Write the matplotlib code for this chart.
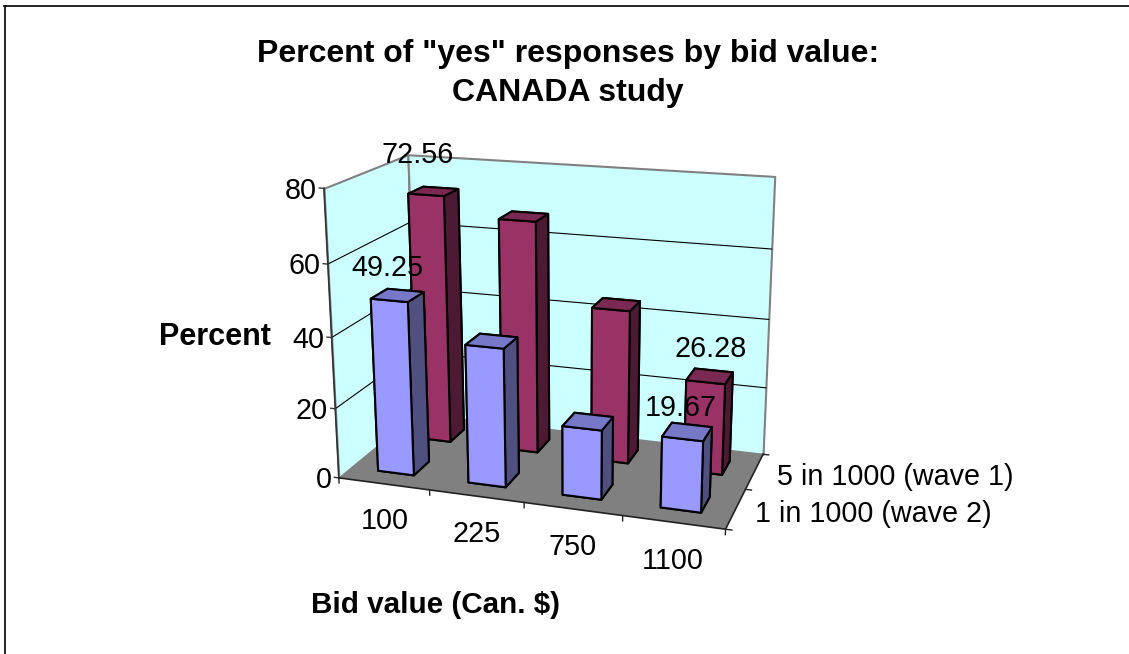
import numpy as np
import matplotlib
matplotlib.use("Agg")
import matplotlib.pyplot as plt
from matplotlib.lines import Line2D
from mpl_toolkits.mplot3d.art3d import Poly3DCollection

plt.rcParams["font.family"] = ["Liberation Sans", "DejaVu Sans"]

WIDTH, HEIGHT = 1129, 654

# Chart values
bids = ["100", "225", "750", "1100"]
waves = ["1 in 1000 (wave 2)", "5 in 1000 (wave 1)"]
wave2_yes = [49.25, 39.0, 19.4, 19.67]
wave1_yes = [72.56, 67.2, 44.3, 26.28]
percent_ticks = [0, 20, 40, 60, 80]
wave2_labels = ["49.25", None, None, "19.67"]
wave1_labels = ["72.56", None, None, "26.28"]

# Excel's camera: where seven corners of the plot box land in the image
box_corners = np.array(
    [[0, 0, 0], [0, 0, 80], [0, 2, 0], [0, 2, 80], [4, 2, 80], [4, 2, 0], [4, 0, 0]],
    dtype=float,
)
box_pixels = np.array(
    [
        [338.3, 477.7],
        [325.0, 187.7],
        [417.3, 414.3],
        [406.7, 155.0],
        [775.0, 176.7],
        [763.3, 453.3],
        [725.0, 530.0],
    ]
)


# Fit a 3x4 camera matrix to the corners
def fit_camera(world, image):
    scale = np.diag([1 / 4, 1 / 2, 1 / 80, 1])
    rows = []
    for (x, y, z), (u, v) in zip(world, image):
        p = scale @ np.array([x, y, z, 1])
        rows.append(np.r_[p, 0, 0, 0, 0, -u * p])
        rows.append(np.r_[0, 0, 0, 0, p, -v * p])
    cam = np.linalg.svd(np.array(rows))[2][-1].reshape(3, 4) @ scale
    return cam / (cam[2] @ [2, 1, 40, 1])


camera = fit_camera(box_corners, box_pixels)

fig = plt.figure(figsize=(WIDTH / 100, HEIGHT / 100), dpi=100)
ax = fig.add_axes([0, 0, 1, 1], projection="3d")
ax.set_axis_off()
ax.computed_zorder = False
ax.patch.set_alpha(0)
ax.set_proj_type("ortho")  # switches off mplot3d's clipping of lines


# mplot3d gets the fitted camera in place of its own view
def fitted_proj():
    to_data = ax.transData.inverted().get_affine().get_matrix()
    flip = np.array([[1, 0, 0], [0, -1, HEIGHT], [0, 0, 1]], dtype=float)
    h = to_data @ flip @ camera
    depth = [-1 / 4, 1 / 2, -1 / 80, 3]
    return np.vstack([h[0], h[1], depth, h[2]])


ax.get_proj = fitted_proj
ax.apply_aspect = lambda position=None: None

x_end, y_end, z_end = len(bids), len(waves), percent_ticks[-1]


# Text at a point of the plot box, moved by some pixels
def label(x, y, z, text, ha="center", px=0, py=3, size=20.7):
    u, v, w = camera @ [x, y, z, 1]
    fig.text((u / w + px) / WIDTH, 1 - (v / w + py) / HEIGHT, text, ha=ha, va="center", fontsize=size)


# Walls and floor
def face(corners, color, zorder, edge="none", lw=0):
    ax.add_collection3d(
        Poly3DCollection(
            [corners], facecolors=color, edgecolors=edge, linewidths=lw, zorder=zorder
        )
    )


face([(0, 0, 0), (0, y_end, 0), (0, y_end, z_end), (0, 0, z_end)], "#CCFFFF", 1, "#808080", 1.5)
face([(0, y_end, 0), (x_end, y_end, 0), (x_end, y_end, z_end), (0, y_end, z_end)], "#CCFFFF", 1, "#808080", 1.5)
face([(0, 0, 0), (x_end, 0, 0), (x_end, y_end, 0), (0, y_end, 0)], "#808080", 3)

# Gridlines and ticks
for p in percent_ticks[1:-1]:
    ax.plot([0, 0, x_end], [0, y_end, y_end], [p, p, p], color="black", lw=0.8, zorder=2)
for p in percent_ticks:
    ax.plot([-0.05, 0], [0, 0], [p, p], color="#333333", lw=1, zorder=4)
    label(-0.08, 0, p, str(p), ha="right")
ax.plot([0, 0], [0, 0], [0, z_end], color="#333333", lw=1.2, zorder=4)
ax.plot([0, x_end, x_end], [0, 0, y_end], [0, 0, 0], color="#222222", lw=1.2, zorder=4)
for i in range(x_end + 1):
    ax.plot([i, i], [0, 0], [0, -1.5], color="#222222", lw=1, zorder=4)
for j in range(y_end + 1):
    ax.plot([x_end, x_end + 0.06], [j, j], [0, 0], color="#222222", lw=1, zorder=4)
for i, bid in enumerate(bids):
    label(i + 0.5, 0, -10, bid)
label(x_end + 0.19, 0.5, 0, waves[0], ha="left")
label(x_end + 0.23, 1.5, 0, waves[1], ha="left")

# Bars, back row first. Face order: bottom, top, front, back, left, right
front_colors = ["#9999FF", "#7878C8", "#9999FF", "#9999FF", "#4F4F80", "#4F4F80"]
back_colors = ["#993366", "#7A2952", "#993366", "#993366", "#4D1A33", "#4D1A33"]
for j, values, colors, base in [
    (1, wave1_yes, back_colors, 5),
    (0, wave2_yes, front_colors, 10),
]:
    for i, value in enumerate(values):
        ax.bar3d(
            i + 0.3, j + 0.3, 0, 0.4, 0.4, value,
            color=colors, shade=False, edgecolor="black", linewidth=1.5, zorder=base + i,
        )

# Data labels
label_shift = {"72.56": (-0.17, 11), "49.25": (-0.1, 8.5), "26.28": (0, 9), "19.67": (-0.07, 7.5)}
for j, values, labels in [(1, wave1_yes, wave1_labels), (0, wave2_yes, wave2_labels)]:
    for i, (value, text) in enumerate(zip(values, labels)):
        if text:
            dx, dz = label_shift[text]
            label(i + 0.5 + dx, j + 0.5, value + dz, text, py=4)

# Titles
fig.text(568 / WIDTH, 1 - 54 / HEIGHT, 'Percent of "yes" responses by bid value:', ha="center", va="center", fontsize=23, fontweight="bold")
fig.text(568 / WIDTH, 1 - 93 / HEIGHT, "CANADA study", ha="center", va="center", fontsize=23, fontweight="bold")
fig.text(215 / WIDTH, 1 - 337 / HEIGHT, "Percent", ha="center", va="center", fontsize=22, fontweight="bold")
fig.text(436 / WIDTH, 1 - 605 / HEIGHT, "Bid value (Can. $)", ha="center", va="center", fontsize=21.3, fontweight="bold")

# Chart border, top and left only reach the picture
fig.add_artist(Line2D([4.5 / WIDTH, 4.5 / WIDTH], [0, 1 - 6 / HEIGHT], color="black", lw=1.2))
fig.add_artist(Line2D([4 / WIDTH, 1], [1 - 6 / HEIGHT, 1 - 6 / HEIGHT], color="black", lw=1.2))

fig.savefig("out.png", dpi=100)
